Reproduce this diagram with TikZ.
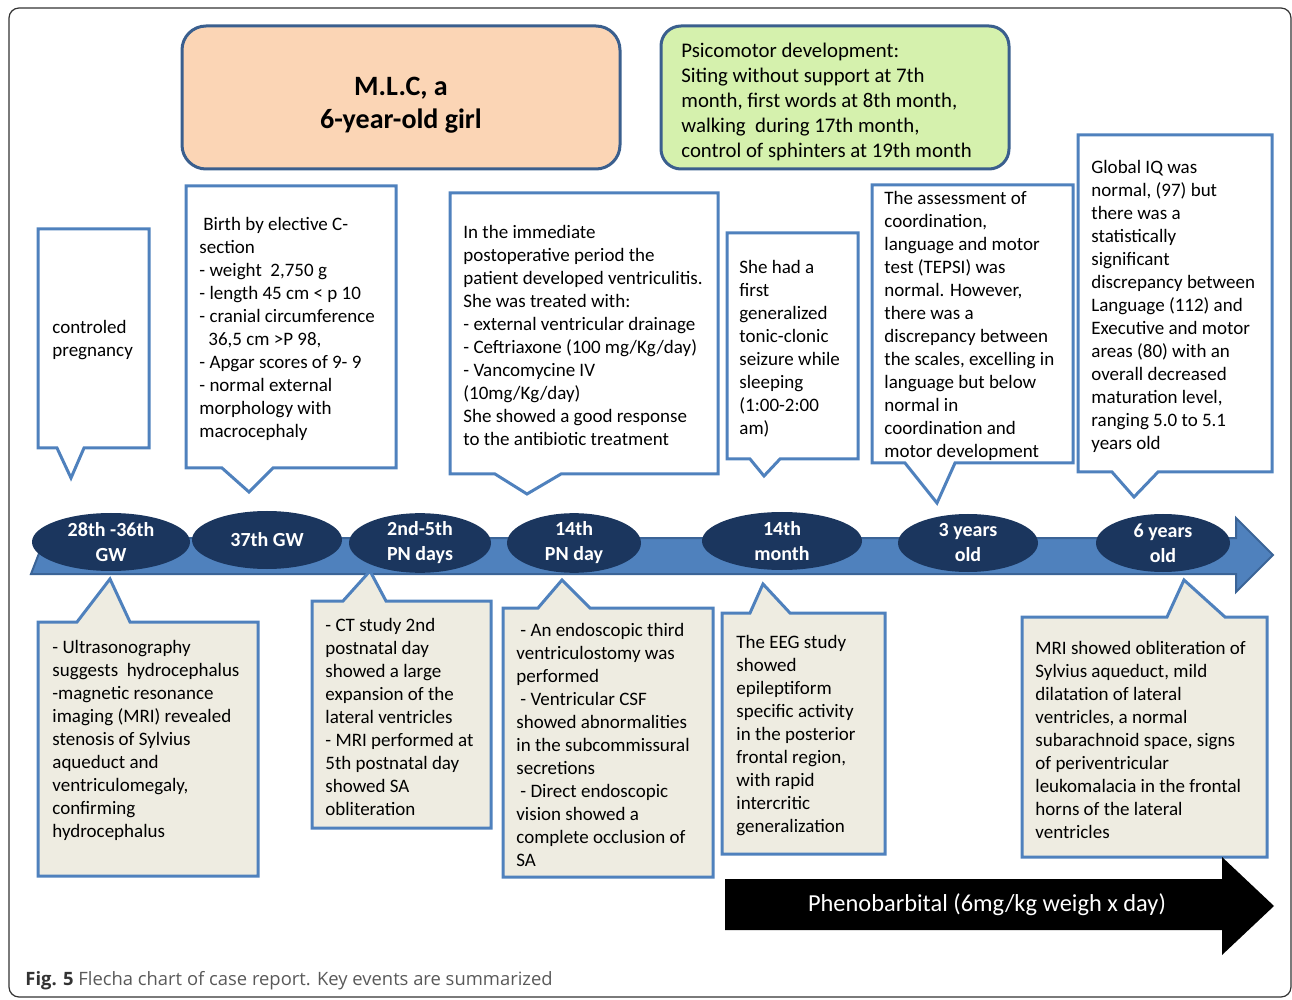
\documentclass[tikz,border=0pt]{standalone}
\usepackage{fontspec}
\setmainfont{Carlito}
\newfontfamily\capfont{Open Sans}
\usetikzlibrary{shapes.geometric}
\definecolor{cblue}{HTML}{4F81BD}
\definecolor{cdark}{HTML}{3A5F8E}
\definecolor{cnavy}{HTML}{1B365E}
\definecolor{corange}{HTML}{FBD5B5}
\definecolor{cgreen}{HTML}{D5F1AD}
\definecolor{cbeige}{HTML}{EEECE1}
\definecolor{cband}{HTML}{4F81BD}
\definecolor{cbandline}{HTML}{3B6497}
\tikzset{
  callout/.style={draw=cblue, line width=1.5pt, fill=white, line join=miter},
  calloutB/.style={draw=cblue, line width=1.5pt, fill=cbeige, line join=miter},
  txt/.style={anchor=west, align=left, inner sep=0pt, yshift=-1pt, font=\fontsize{9.5}{11.5}\selectfont},
  tl/.style={ellipse, fill=cnavy, inner sep=0pt, minimum height=29pt, text=white, align=center,
             font=\fontsize{10}{12.5}\selectfont\bfseries},
  topbox/.style={draw=cdark, line width=1.5pt, rounded corners=12pt}
}
\begin{document}
\begin{tikzpicture}[x=0.5pt,y=-0.5pt]
\useasboundingbox (0,0) rectangle (1292,1000);
% outer frame
\draw[rounded corners=5pt, line width=0.6pt, draw=black!80] (9,8) rectangle (1291,997);

% title boxes
\draw[topbox, fill=corange] (182,26) rectangle (620,169);
\node[align=center, inner sep=0pt, yshift=-1pt, font=\fontsize{14}{16.5}\selectfont\bfseries] (title) at (401,103) {M.L.C, a\\6-year-old girl};
\draw[topbox, fill=cgreen, rounded corners=10pt] (661,26) rectangle (1009,169);
\node[anchor=west, align=left, inner sep=0pt, yshift=-1pt, font=\fontsize{10.4}{12.5}\selectfont] (psico) at (681,100)
 {Psicomotor development:\\Siting without support at 7th\\month, first words at 8th month,\\walking~ during 17th month,\\control of sphinters at 19th month};

% top callouts
\draw[callout] (38,229) -- (149,229) -- (149,448) -- (84,448) -- (71,478) -- (57,448) -- (38,448) -- cycle;
\node[txt] (t1) at (52,338) {controled\\pregnancy};

\draw[callout] (186,186) -- (396,186) -- (396,468) -- (273,468) -- (249,492) -- (222,468) -- (186,468) -- cycle;
\node[txt] (t2) at (199,327) {\hspace{2pt}Birth by elective C-\\section\\- weight~ 2,750 g\\- length 45 cm < p 10\\- cranial circumference\\\hspace{4.5pt}36,5 cm >P 98,\\- Apgar scores of 9- 9\\- normal external\\morphology with\\macrocephaly};

\draw[callout] (450,193) -- (718,193) -- (718,474) -- (561,474) -- (527,494) -- (495,474) -- (450,474) -- cycle;
\node[txt] (t3) at (463,333.5) {In the immediate\\postoperative period the\\patient developed ventriculitis.\\She was treated with:\\- external ventricular drainage\\- Ceftriaxone (100 mg/Kg/day)\\- Vancomycine IV\\(10mg/Kg/day)\\She showed a good response\\to the antibiotic treatment};

\draw[callout] (727,233) -- (858,233) -- (858,459) -- (780,459) -- (764,476) -- (750,459) -- (727,459) -- cycle;
\node[txt] (t4) at (739,347) {She had a\\first\\generalized\\tonic-clonic\\seizure while\\sleeping\\(1:00-2:00\\am)};

\draw[callout] (872,185) -- (1073,185) -- (1073,463) -- (955,463) -- (937,503) -- (905,463) -- (872,463) -- cycle;
\node[txt] (t5) at (884,324) {The assessment of\\coordination,\\language and motor\\test (TEPSI) was\\normal. However,\\there was a\\discrepancy between\\the scales, excelling in\\language but below\\normal in\\coordination and\\motor development};

\draw[callout] (1078,135) -- (1272,135) -- (1272,472) -- (1158,472) -- (1134,497) -- (1112,472) -- (1078,472) -- cycle;
\node[txt] (t6) at (1091,304) {Global IQ was\\normal, (97) but\\there was a\\statistically\\significant\\discrepancy between\\Language (112) and\\Executive and motor\\areas (80) with an\\overall decreased\\maturation level,\\ranging 5.0 to 5.1\\years old};

% timeline band
\draw[fill=cband, draw=cbandline, line width=1pt, line join=miter]
  (31,574) -- (45,538) -- (1236,538) -- (1236,518) -- (1273,555) -- (1236,592) -- (1236,574) -- cycle;

% timeline ellipses
\node[tl, minimum width=79pt] (e1) at (111,542) {28th -36th\\GW};
\node[tl, minimum width=75pt] (e2) at (267,540) {37th GW};
\node[tl, minimum width=71pt] (e3) at (420,543) {2nd-5th\\PN days};
\node[tl, minimum width=67pt] (e4) at (574,543) {14th\\PN day};
\node[tl, minimum width=80pt] (e5) at (782,541) {14th\\month};
\node[tl, minimum width=70pt] (e6) at (968,543) {3 years\\old};
\node[tl, minimum width=67pt] (e7) at (1163,543) {6 years\\old};

% bottom callouts
\draw[calloutB] (38,622) -- (77,622) -- (110,579) -- (130,622) -- (258,622) -- (258,876) -- (38,876) -- cycle;
\node[txt] (b1) at (52,738) {- Ultrasonography\\suggests~ hydrocephalus\\-magnetic resonance\\imaging (MRI) revealed\\stenosis of Sylvius\\aqueduct and\\ventriculomegaly,\\confirming\\hydrocephalus};

\draw[calloutB] (312,601) -- (343,601) -- (370,571) -- (386,601) -- (491,601) -- (491,828) -- (312,828) -- cycle;
\node[txt] (b2) at (325,714.5) {- CT study 2nd\\postnatal day\\showed a large\\expansion of the\\lateral ventricles\\- MRI performed at\\5th postnatal day\\showed SA\\obliteration};

\draw[calloutB] (503,608) -- (538,608) -- (562,580) -- (590,608) -- (713,608) -- (713,877) -- (503,877) -- cycle;
\node[txt] (b3) at (516,743) {\hspace{2pt}- An endoscopic third\\ventriculostomy was\\performed\\\hspace{2pt}- Ventricular CSF\\showed abnormalities\\in the subcommissural\\secretions\\\hspace{2pt}- Direct endoscopic\\vision showed a\\complete occlusion of\\SA};

\draw[calloutB] (722,613) -- (750,613) -- (763,584) -- (790,613) -- (885,613) -- (885,854) -- (722,854) -- cycle;
\node[txt] (b4) at (736,734) {The EEG study\\showed\\epileptiform\\specific activity\\in the posterior\\frontal region,\\with rapid\\intercritic\\generalization};

\draw[calloutB] (1022,617) -- (1167,617) -- (1184,580) -- (1225,617) -- (1267,617) -- (1267,857) -- (1022,857) -- cycle;
\node[txt] (b5) at (1035,737.5) {MRI showed obliteration of\\Sylvius aqueduct, mild\\dilatation of lateral\\ventricles, a normal\\subarachnoid space, signs\\of periventricular\\leukomalacia in the frontal\\horns of the lateral\\ventricles};

% phenobarbital arrow
\fill[black] (725,879) -- (1222,879) -- (1222,857) -- (1274,906) -- (1222,955) -- (1222,930) -- (725,930) -- cycle;
\node[text=white, inner sep=0pt, font=\fontsize{12.2}{14}\selectfont] (pheno) at (987,905) {Phenobarbital (6mg/kg weigh x day)};

% caption
\node[anchor=west, inner sep=0pt, font=\capfont\fontsize{9.2}{11}\selectfont, text=black!65] (cap) at (25,981)
 {\textbf{\color{black!80}Fig. 5} Flecha chart of case report. Key events are summarized};
\end{tikzpicture}
\end{document}
